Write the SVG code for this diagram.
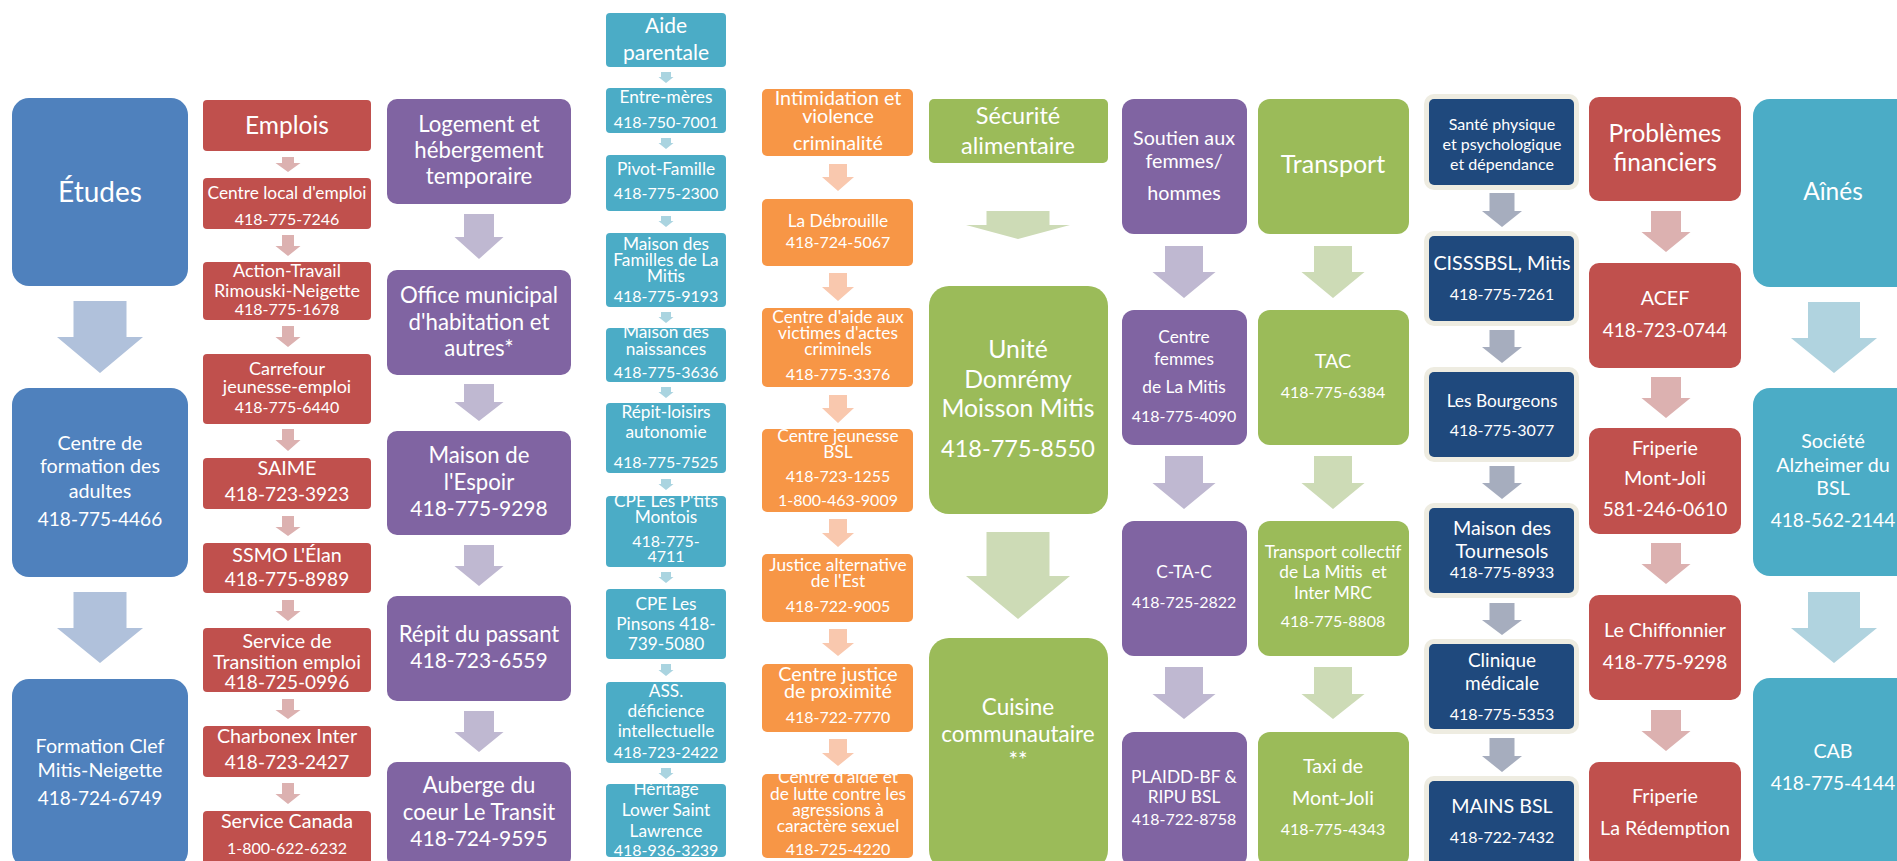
<svg xmlns="http://www.w3.org/2000/svg" width="1897" height="861" viewBox="0 0 1897 861">
<style>
text{font-family:Lato,"Liberation Sans",sans-serif;fill:#fff;text-anchor:middle}
.blue{fill:#4F81BD}.red{fill:#C0504D}.pur{fill:#8064A2}.teal{fill:#4BACC6}.ora{fill:#F79646}.grn{fill:#9BBB59}.dkb{fill:#1F497D}.crm{fill:#EEECE1}
.ab{fill:#B0C1DB}.ar{fill:#DCB1B0}.ap{fill:#BFB8D1}.at{fill:#AAD4E0}.ao{fill:#F9C8AE}.ag{fill:#CDDBB6}.ak{fill:#A6ADBE}.at2{fill:#B0D3DF}
.f16{font-size:16px}.f17{font-size:17.3px}.f18{font-size:18px}.f19{font-size:19px}.f195{font-size:19.7px}.f205{font-size:21px}.f21{font-size:21px}.f215{font-size:22.2px}.f22{font-size:22.5px}.f23{font-size:23.5px}.f24{font-size:24.8px}.f24b{font-size:24.5px}.f25{font-size:25px}.f27{font-size:28px}
</style>
<rect width="1897" height="861" fill="#fff"/>

<g id="connectors">
<path class="ab" d="M73.5,301H126.5V337H143L100,373L57,337H73.5Z"/>
<path class="ab" d="M73.5,592H126.5V628H143L100,663L57,628H73.5Z"/>

<path class="ar" d="M282,157H294V163H300.5L288,172L275.5,163H282Z"/>
<path class="ar" d="M282,235H294V246H300.5L288,256L275.5,246H282Z"/>
<path class="ar" d="M282,326H294V337H300.5L288,347L275.5,337H282Z"/>
<path class="ar" d="M282,429H294V440H300.5L288,451L275.5,440H282Z"/>
<path class="ar" d="M282,516H294V527H300.5L288,536L275.5,527H282Z"/>
<path class="ar" d="M282,600H294V611H300.5L288,621L275.5,611H282Z"/>
<path class="ar" d="M282,699H294V710H300.5L288,719L275.5,710H282Z"/>
<path class="ar" d="M282,783H294V794H300.5L288,804L275.5,794H282Z"/>

<path class="ap" d="M464,214H494V237H503.5L479,259L454.5,237H464Z"/>
<path class="ap" d="M464,384H494V402H503.5L479,421L454.5,402H464Z"/>
<path class="ap" d="M464,545H494V566H503.5L479,586L454.5,566H464Z"/>
<path class="ap" d="M464,711H494V732H503.5L479,752L454.5,732H464Z"/>

<path class="at" d="M661,72H671V77H673.5L666,83L658.5,77H661Z"/>
<path class="at" d="M661,138H671V143H673.5L666,149L658.5,143H661Z"/>
<path class="at" d="M661,216H671V221H673.5L666,227L658.5,221H661Z"/>
<path class="at" d="M661,312H671V317H673.5L666,323L658.5,317H661Z"/>
<path class="at" d="M661,387H671V392H673.5L666,398L658.5,392H661Z"/>
<path class="at" d="M661,479H671V484H673.5L666,490L658.5,484H661Z"/>
<path class="at" d="M661,572H671V577H673.5L666,583L658.5,577H661Z"/>
<path class="at" d="M661,664H671V670H673.5L666,676L658.5,670H661Z"/>
<path class="at" d="M661,768H671V773H673.5L666,779L658.5,773H661Z"/>

<path class="ao" d="M829,164H847V177H854L838,191L822,177H829Z"/>
<path class="ao" d="M829,273H847V287H854L838,301L822,287H829Z"/>
<path class="ao" d="M829,395H847V408H854L838,423L822,408H829Z"/>
<path class="ao" d="M829,519H847V533H854L838,547L822,533H829Z"/>
<path class="ao" d="M829,629H847V643H854L838,656L822,643H829Z"/>
<path class="ao" d="M829,739H847V753H854L838,766L822,753H829Z"/>

<path class="ag" d="M986.5,211H1049.5V225H1070L1018,239L966,225H986.5Z"/>
<path class="ag" d="M986.5,532H1049.5V576H1070L1018,619L966,576H986.5Z"/>

<path class="ap" d="M1165,246H1203V272H1215.5L1184,298L1152.5,272H1165Z"/>
<path class="ap" d="M1165,456H1203V483H1215.5L1184,509L1152.5,483H1165Z"/>
<path class="ap" d="M1165,667H1203V694H1215.5L1184,719L1152.5,694H1165Z"/>

<path class="ag" d="M1314,246H1352V272H1364.5L1333,298L1301.5,272H1314Z"/>
<path class="ag" d="M1314,456H1352V483H1364.5L1333,509L1301.5,483H1314Z"/>
<path class="ag" d="M1314,667H1352V694H1364.5L1333,719L1301.5,694H1314Z"/>

<path class="ak" d="M1489.5,193H1514.5V211H1522L1502,227L1482,211H1489.5Z"/>
<path class="ak" d="M1489.5,330H1514.5V347H1522L1502,363L1482,347H1489.5Z"/>
<path class="ak" d="M1489.5,466H1514.5V483H1522L1502,499L1482,483H1489.5Z"/>
<path class="ak" d="M1489.5,603H1514.5V620H1522L1502,635L1482,620H1489.5Z"/>
<path class="ak" d="M1489.5,738H1514.5V756H1522L1502,772L1482,756H1489.5Z"/>

<path class="ar" d="M1651,211H1681V232H1690.5L1666,252L1641.5,232H1651Z"/>
<path class="ar" d="M1651,377H1681V398H1690.5L1666,418L1641.5,398H1651Z"/>
<path class="ar" d="M1651,543H1681V564H1690.5L1666,584L1641.5,564H1651Z"/>
<path class="ar" d="M1651,710H1681V731H1690.5L1666,751L1641.5,731H1651Z"/>

<path class="at2" d="M1808,302H1860V338H1877L1834,373L1791,338H1808Z"/>
<path class="at2" d="M1808,592H1860V628H1877L1834,663L1791,628H1808Z"/>
</g>

<g id="etudes"><rect class="blue" x="12" y="98" width="176" height="188" rx="17"/><text class="f27" x="100" y="202">Études</text></g>
<g id="cfa"><rect class="blue" x="12" y="388" width="176" height="189" rx="17"/>
<text class="f195" x="100" y="450">Centre de</text><text class="f195" x="100" y="473">formation des</text><text class="f195" x="100" y="498">adultes</text><text class="f19" x="100" y="526">418-775-4466</text></g>
<g id="clef"><rect class="blue" x="12" y="679" width="176" height="189" rx="17"/>
<text class="f195" x="100" y="753">Formation Clef</text><text class="f195" x="100" y="777">Mitis-Neigette</text><text class="f19" x="100" y="805">418-724-6749</text></g>

<g id="emplois"><rect class="red" x="203" y="100" width="168" height="51" rx="4"/><text class="f24b" x="287" y="134">Emplois</text></g>
<g id="cle"><rect class="red" x="203" y="178" width="168" height="51" rx="4"/><text class="f17" x="287" y="199">Centre local d'emploi</text><text class="f16" x="287" y="225">418-775-7246</text></g>
<g id="action"><rect class="red" x="203" y="262" width="168" height="58" rx="4"/><text class="f18" x="287" y="277">Action-Travail</text><text class="f18" x="287" y="297">Rimouski-Neigette</text><text class="f16" x="287" y="315">418-775-1678</text></g>
<g id="carrefour"><rect class="red" x="203" y="354" width="168" height="70" rx="4"/><text class="f18" x="287" y="375">Carrefour</text><text class="f18" x="287" y="393">jeunesse-emploi</text><text class="f16" x="287" y="413">418-775-6440</text></g>
<g id="saime"><rect class="red" x="203" y="458" width="168" height="51" rx="4"/><text class="f195" x="287" y="475">SAIME</text><text class="f19" x="287" y="501">418-723-3923</text></g>
<g id="ssmo"><rect class="red" x="203" y="543" width="168" height="50" rx="4"/><text class="f195" x="287" y="562">SSMO L'Élan</text><text class="f19" x="287" y="586">418-775-8989</text></g>
<g id="transition"><rect class="red" x="203" y="628" width="168" height="64" rx="4"/><text class="f195" x="287" y="648">Service de</text><text class="f195" x="287" y="669">Transition emploi</text><text class="f19" x="287" y="689">418-725-0996</text></g>
<g id="charbonex"><rect class="red" x="203" y="726" width="168" height="51" rx="4"/><text class="f195" x="287" y="743">Charbonex Inter</text><text class="f19" x="287" y="769">418-723-2427</text></g>
<g id="canada"><rect class="red" x="203" y="811" width="168" height="56" rx="4"/><text class="f195" x="287" y="828">Service Canada</text><text class="f16" x="287" y="854">1-800-622-6232</text></g>

<g id="logement"><rect class="pur" x="387" y="99" width="184" height="105" rx="10"/><text class="f215" x="479" y="132">Logement et</text><text class="f215" x="479" y="158">hébergement</text><text class="f215" x="479" y="184">temporaire</text></g>
<g id="omh"><rect class="pur" x="387" y="270" width="184" height="105" rx="10"/><text class="f215" x="479" y="303">Office municipal</text><text class="f215" x="479" y="330">d'habitation et</text><text class="f215" x="479" y="356">autres*</text></g>
<g id="espoir"><rect class="pur" x="387" y="431" width="184" height="104" rx="10"/><text class="f215" x="479" y="463">Maison de</text><text class="f215" x="479" y="490">l'Espoir</text><text class="f21" x="479" y="516">418-775-9298</text></g>
<g id="repit"><rect class="pur" x="387" y="596" width="184" height="105" rx="10"/><text class="f215" x="479" y="642">Répit du passant</text><text class="f21" x="479" y="668">418-723-6559</text></g>
<g id="auberge"><rect class="pur" x="387" y="762" width="184" height="105" rx="10"/><text class="f215" x="479" y="793">Auberge du</text><text class="f215" x="479" y="820">coeur Le Transit</text><text class="f21" x="479" y="846">418-724-9595</text></g>

<g id="aide"><rect class="teal" x="606" y="13" width="120" height="54" rx="4"/><text class="f205" x="666" y="33">Aide</text><text class="f205" x="666" y="60">parentale</text></g>
<g id="entremeres"><rect class="teal" x="606" y="88" width="120" height="45" rx="4"/><text class="f17" x="666" y="103">Entre-mères</text><text class="f16" x="666" y="128">418-750-7001</text></g>
<g id="pivot"><rect class="teal" x="606" y="155" width="120" height="56" rx="4"/><text class="f17" x="666" y="175">Pivot-Famille</text><text class="f16" x="666" y="199">418-775-2300</text></g>
<g id="familles"><rect class="teal" x="606" y="233" width="120" height="74" rx="4"/><text class="f17" x="666" y="250">Maison des</text><text class="f17" x="666" y="266">Familles de La</text><text class="f17" x="666" y="282">Mitis</text><text class="f16" x="666" y="302">418-775-9193</text></g>
<g id="naissances"><rect class="teal" x="606" y="328" width="120" height="54" rx="4"/><text class="f17" x="666" y="338">Maison des</text><text class="f17" x="666" y="355">naissances</text><text class="f16" x="666" y="378">418-775-3636</text></g>
<g id="repitloisirs"><rect class="teal" x="606" y="403" width="120" height="70" rx="4"/><text class="f17" x="666" y="418">Répit-loisirs</text><text class="f17" x="666" y="438">autonomie</text><text class="f16" x="666" y="468">418-775-7525</text></g>
<g id="ptits"><rect class="teal" x="606" y="496" width="120" height="71" rx="4"/><text class="f17" x="666" y="507">CPE Les P'tits</text><text class="f17" x="666" y="523">Montois</text><text class="f16" x="666" y="547">418-775-</text><text class="f16" x="666" y="562">4711</text></g>
<g id="pinsons"><rect class="teal" x="606" y="589" width="120" height="70" rx="4"/><text class="f17" x="666" y="610">CPE Les</text><text class="f17" x="666" y="630">Pinsons 418-</text><text class="f17" x="666" y="650">739-5080</text></g>
<g id="ass"><rect class="teal" x="606" y="682" width="120" height="81" rx="4"/><text class="f17" x="666" y="697">ASS.</text><text class="f17" x="666" y="717">déficience</text><text class="f17" x="666" y="737">intellectuelle</text><text class="f16" x="666" y="758">418-723-2422</text></g>
<g id="heritage"><rect class="teal" x="606" y="784" width="120" height="73" rx="4"/><text class="f17" x="666" y="795">Héritage</text><text class="f17" x="666" y="816">Lower Saint</text><text class="f17" x="666" y="837">Lawrence</text><text class="f16" x="666" y="856">418-936-3239</text></g>

<g id="intimidation"><rect class="ora" x="762" y="89" width="151" height="67" rx="5"/><text class="f195" x="838" y="105">Intimidation et</text><text class="f195" x="838" y="123">violence</text><text class="f195" x="838" y="150">criminalité</text></g>
<g id="debrouille"><rect class="ora" x="762" y="199" width="151" height="67" rx="5"/><text class="f17" x="838" y="227">La Débrouille</text><text class="f16" x="838" y="248">418-724-5067</text></g>
<g id="cavac"><rect class="ora" x="762" y="308" width="151" height="79" rx="5"/><text class="f17" x="838" y="323">Centre d'aide aux</text><text class="f17" x="838" y="339">victimes d'actes</text><text class="f17" x="838" y="355">criminels</text><text class="f16" x="838" y="380">418-775-3376</text></g>
<g id="cjbsl"><rect class="ora" x="762" y="429" width="151" height="83" rx="5"/><text class="f17" x="838" y="442">Centre jeunesse</text><text class="f17" x="838" y="458">BSL</text><text class="f16" x="838" y="482">418-723-1255</text><text class="f16" x="838" y="506">1-800-463-9009</text></g>
<g id="justice"><rect class="ora" x="762" y="554" width="151" height="68" rx="5"/><text class="f17" x="838" y="571">Justice alternative</text><text class="f17" x="838" y="587">de l'Est</text><text class="f16" x="838" y="612">418-722-9005</text></g>
<g id="proximite"><rect class="ora" x="762" y="664" width="151" height="68" rx="5"/><text class="f195" x="838" y="681">Centre justice</text><text class="f195" x="838" y="698">de proximité</text><text class="f16" x="838" y="723">418-722-7770</text></g>
<g id="calacs"><rect class="ora" x="762" y="774" width="151" height="84" rx="5"/><text class="f17" x="838" y="783">Centre d'aide et</text><text class="f17" x="838" y="800">de lutte contre les</text><text class="f17" x="838" y="816">agressions à</text><text class="f17" x="838" y="832">caractère sexuel</text><text class="f16" x="838" y="855">418-725-4220</text></g>

<g id="securite"><rect class="grn" x="929" y="99" width="179" height="64" rx="5"/><text class="f23" x="1018" y="124">Sécurité</text><text class="f23" x="1018" y="154">alimentaire</text></g>
<g id="unite"><rect class="grn" x="929" y="286" width="179" height="228" rx="20"/><text class="f24" x="1018" y="358">Unité</text><text class="f24" x="1018" y="388">Domrémy</text><text class="f24" x="1018" y="417">Moisson Mitis</text><text class="f23" x="1018" y="457">418-775-8550</text></g>
<g id="cuisine"><rect class="grn" x="929" y="638" width="179" height="232" rx="20"/><text class="f22" x="1018" y="715">Cuisine</text><text class="f22" x="1018" y="742">communautaire</text><text class="f22" x="1018" y="768">**</text></g>

<g id="soutien"><rect class="pur" x="1122" y="99" width="125" height="135" rx="12"/><text class="f195" x="1184" y="145">Soutien aux</text><text class="f195" x="1184" y="168">femmes/</text><text class="f195" x="1184" y="200">hommes</text></g>
<g id="cfemmes"><rect class="pur" x="1122" y="310" width="125" height="135" rx="12"/><text class="f17" x="1184" y="343">Centre</text><text class="f17" x="1184" y="365">femmes</text><text class="f17" x="1184" y="393">de La Mitis</text><text class="f16" x="1184" y="422">418-775-4090</text></g>
<g id="ctac"><rect class="pur" x="1122" y="521" width="125" height="135" rx="12"/><text class="f17" x="1184" y="578">C-TA-C</text><text class="f16" x="1184" y="608">418-725-2822</text></g>
<g id="plaidd"><rect class="pur" x="1122" y="732" width="125" height="135" rx="12"/><text class="f17" x="1184" y="783">PLAIDD-BF &amp;</text><text class="f17" x="1184" y="803">RIPU BSL</text><text class="f16" x="1184" y="825">418-722-8758</text></g>

<g id="transport"><rect class="grn" x="1258" y="99" width="151" height="135" rx="12"/><text class="f25" x="1333" y="173">Transport</text></g>
<g id="tac"><rect class="grn" x="1258" y="310" width="151" height="135" rx="12"/><text class="f195" x="1333" y="368">TAC</text><text class="f16" x="1333" y="398">418-775-6384</text></g>
<g id="tcollectif"><rect class="grn" x="1258" y="521" width="151" height="135" rx="12"/><text class="f17" x="1333" y="558">Transport collectif</text><text class="f17" x="1333" y="578">de La Mitis&#160; et</text><text class="f17" x="1333" y="599">Inter MRC</text><text class="f16" x="1333" y="627">418-775-8808</text></g>
<g id="taxi"><rect class="grn" x="1258" y="732" width="151" height="135" rx="12"/><text class="f195" x="1333" y="773">Taxi de</text><text class="f195" x="1333" y="805">Mont-Joli</text><text class="f16" x="1333" y="835">418-775-4343</text></g>

<g id="sante"><rect class="crm" x="1424" y="94" width="155" height="96" rx="10"/><rect class="dkb" x="1429" y="99" width="145" height="86" rx="5"/><text class="f16" x="1502" y="130">Santé physique</text><text class="f16" x="1502" y="150">et psychologique</text><text class="f16" x="1502" y="170">et dépendance</text></g>
<g id="cisss"><rect class="crm" x="1424" y="231" width="155" height="95" rx="10"/><rect class="dkb" x="1429" y="236" width="145" height="85" rx="5"/><text class="f195" x="1502" y="270">CISSSBSL, Mitis</text><text class="f16" x="1502" y="300">418-775-7261</text></g>
<g id="bourgeons"><rect class="crm" x="1424" y="367" width="155" height="95" rx="10"/><rect class="dkb" x="1429" y="372" width="145" height="85" rx="5"/><text class="f17" x="1502" y="407">Les Bourgeons</text><text class="f16" x="1502" y="436">418-775-3077</text></g>
<g id="tournesols"><rect class="crm" x="1424" y="503" width="155" height="95" rx="10"/><rect class="dkb" x="1429" y="508" width="145" height="85" rx="5"/><text class="f195" x="1502" y="535">Maison des</text><text class="f195" x="1502" y="558">Tournesols</text><text class="f16" x="1502" y="578">418-775-8933</text></g>
<g id="clinique"><rect class="crm" x="1424" y="639" width="155" height="95" rx="10"/><rect class="dkb" x="1429" y="644" width="145" height="85" rx="5"/><text class="f19" x="1502" y="667">Clinique</text><text class="f19" x="1502" y="690">médicale</text><text class="f16" x="1502" y="720">418-775-5353</text></g>
<g id="mains"><rect class="crm" x="1424" y="776" width="155" height="95" rx="10"/><rect class="dkb" x="1429" y="781" width="145" height="85" rx="5"/><text class="f195" x="1502" y="813">MAINS BSL</text><text class="f16" x="1502" y="843">418-722-7432</text></g>

<g id="problemes"><rect class="red" x="1589" y="97" width="152" height="104" rx="10"/><text class="f24b" x="1665" y="142">Problèmes</text><text class="f24b" x="1665" y="171">financiers</text></g>
<g id="acef"><rect class="red" x="1589" y="263" width="152" height="105" rx="10"/><text class="f195" x="1665" y="305">ACEF</text><text class="f19" x="1665" y="337">418-723-0744</text></g>
<g id="friperie1"><rect class="red" x="1589" y="428" width="152" height="106" rx="10"/><text class="f195" x="1665" y="455">Friperie</text><text class="f195" x="1665" y="485">Mont-Joli</text><text class="f19" x="1665" y="516">581-246-0610</text></g>
<g id="chiffonnier"><rect class="red" x="1589" y="595" width="152" height="105" rx="10"/><text class="f195" x="1665" y="637">Le Chiffonnier</text><text class="f19" x="1665" y="669">418-775-9298</text></g>
<g id="redemption"><rect class="red" x="1589" y="762" width="152" height="105" rx="10"/><text class="f195" x="1665" y="803">Friperie</text><text class="f195" x="1665" y="835">La Rédemption</text></g>

<g id="aines"><rect class="teal" x="1753" y="99" width="170" height="188" rx="17"/><text class="f24b" x="1833" y="200">Aînés</text></g>
<g id="alzheimer"><rect class="teal" x="1753" y="388" width="170" height="188" rx="17"/><text class="f195" x="1833" y="448">Société</text><text class="f195" x="1833" y="472">Alzheimer du</text><text class="f195" x="1833" y="495">BSL</text><text class="f19" x="1833" y="527">418-562-2144</text></g>
<g id="cab"><rect class="teal" x="1753" y="678" width="170" height="188" rx="17"/><text class="f195" x="1833" y="758">CAB</text><text class="f19" x="1833" y="790">418-775-4144</text></g>
</svg>
